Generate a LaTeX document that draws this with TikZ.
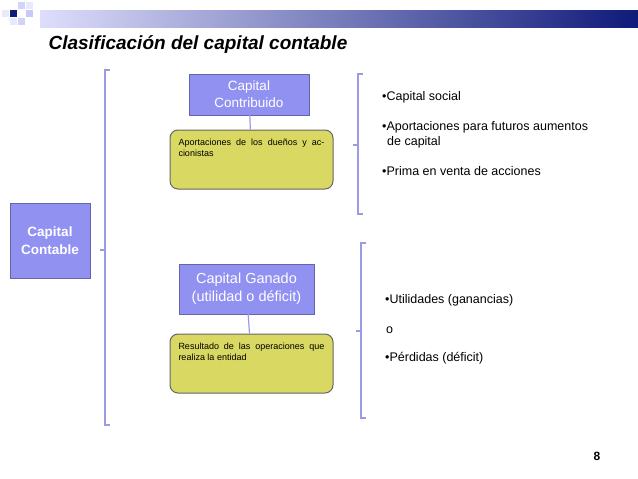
\documentclass[tikz,border=0pt]{standalone}
\usepackage{fontspec}
\setmainfont{Liberation Sans}
\usetikzlibrary{positioning}
\definecolor{slide-blue}{HTML}{9191F2}
\definecolor{slide-navy}{HTML}{0F1A7A}
\definecolor{slide-yellow}{HTML}{D8D862}
\definecolor{brace-blue}{HTML}{9A9AE6}

\begin{document}
\begin{tikzpicture}[x=1pt, y=-1pt,
  blue box/.style={draw=slide-blue!70!black, fill=slide-blue, text=white, align=center, inner sep=2pt},
  note box/.style={draw=gray!80!black, fill=slide-yellow, rounded corners=8pt, line width=1pt,
    minimum width=163pt, minimum height=59pt, text width=146pt, align=justify, font=\fontsize{9}{11}\selectfont},
  brace/.style={draw=brace-blue, line width=1.6pt},
  item/.style={anchor=west, font=\fontsize{12.5}{15}\selectfont, inner sep=0pt}]
\useasboundingbox (0,0) rectangle (638,479);
% banner
\shade[left color=slide-blue!30, right color=slide-navy] (40,10) rectangle (638,27);
\foreach \x/\y/\c in {10/10/slide-navy, 18/2/slide-blue!40, 26/10/slide-blue!50, 18/18/slide-blue!40, 10/18/slide-blue!20, 2/10/slide-blue!20, 26/2/slide-blue!20}
  \fill[\c] (\x,\y) rectangle ++(7,7);
\node[anchor=west, font=\fontsize{19}{22}\selectfont\bfseries\itshape] (title) at (45,45) {Clasificación del capital contable};
% boxes
\node[blue box, minimum width=80pt, minimum height=75pt, font=\fontsize{13.5}{18}\selectfont\bfseries] (contable) at (50,241) {Capital\\Contable};
\node[blue box, minimum width=120pt, minimum height=41pt, font=\fontsize{13.5}{17}\selectfont] (contribuido) at (249,94.5) {Capital\\Contribuido};
\node[note box] (aportaciones) at (251.5,159.5) {Aportaciones de los dueños y accionistas\\[12pt]};
\node[blue box, minimum width=135pt, minimum height=50pt, font=\fontsize{14.5}{18}\selectfont] (ganado) at (246.5,289) {Capital Ganado\\(utilidad o déficit)};
\node[note box] (resultado) at (251.5,363.5) {Resultado de las operaciones que realiza la entidad\\[12pt]};
\draw[brace-blue, line width=1.2pt] (contribuido) -- (aportaciones);
\draw[brace-blue, line width=1.2pt] (ganado) -- (resultado);
% braces
\draw[brace] (110,70) -- (105,70) -- (105,425) -- (110,425);
\draw[brace] (105,250) -- (100,250);
\draw[brace] (363,74) -- (358,74) -- (358,214) -- (363,214);
\draw[brace] (358,145) -- (353,145);
\draw[brace] (366,243) -- (361,243) -- (361,418) -- (366,418);
\draw[brace] (361,331) -- (356,331);
% items
\node[item] (social) at (382,97) {•Capital social};
\node[item] (futuros) at (382,127) {•Aportaciones para futuros aumentos};
\node[item] (futuros2) at (387,142) {de capital};
\node[item] (prima) at (382,171) {•Prima en venta de acciones};
\node[item] (utilidades) at (385,300) {•Utilidades (ganancias)};
\node[item] (o) at (386,330) {o};
\node[item] (perdidas) at (385,358) {•Pérdidas (déficit)};
\node[font=\fontsize{12}{14}\selectfont\bfseries] (page) at (597,456) {8};
\end{tikzpicture}
\end{document}
